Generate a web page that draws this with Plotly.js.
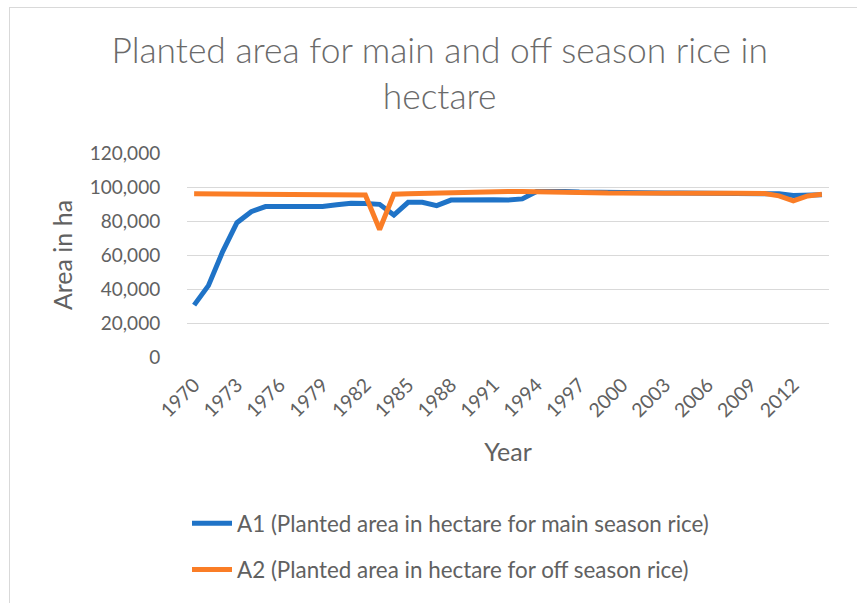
<!DOCTYPE html>
<html>
<head>
<meta charset="utf-8">
<script src="https://cdn.plot.ly/plotly-3.0.1.min.js"></script>
<style>
  html, body { margin: 0; padding: 0; background: #ffffff; }
  #frame { position: absolute; left: 9px; top: 7px; width: 900px; height: 700px; border: 1px solid #d9d9d9; }
  #chart { position: absolute; left: 0; top: 0; width: 857px; height: 603px; }
</style>
</head>
<body>
<div id="frame"></div>
<div id="chart"></div>
<script>
const years = [
  "1970","1971","1972","1973","1974","1975","1976","1977","1978","1979",
  "1980","1981","1982","1983","1984","1985","1986","1987","1988","1989",
  "1990","1991","1992","1993","1994","1995","1996","1997","1998","1999",
  "2000","2001","2002","2003","2004","2005","2006","2007","2008","2009",
  "2010","2011","2012","2013","2014"
];

const mainSeason = [
  30500, 42000, 62000, 79000, 85500, 88500, 88500, 88500, 88500, 88500,
  89500, 90500, 90300, 89800, 83500, 91000, 91000, 89000, 92300, 92500,
  92500, 92500, 92300, 93000, 97300, 97700, 97400, 97000, 96800, 96600,
  96500, 96400, 96400, 96400, 96400, 96400, 96500, 96500, 96500, 96500,
  96500, 96000, 95000, 95300, 95500
];

const offSeason = [
  96000, 96000, 96000, 96000, 96000, 96000, 96000, 96000, 96000, 96000,
  96000, 95300, 95300, 75000, 95800, 96000, 96200, 97000, 97200, 97300,
  97300, 97300, 97300, 97300, 97300, 97000, 96900, 96700, 96600, 96400,
  96300, 96300, 96300, 96300, 96300, 96300, 96300, 96300, 96300, 96300,
  96200, 94800, 91800, 94700, 95700
];

const yTicks = [0, 20000, 40000, 60000, 80000, 100000, 120000];
const xTickLabels = ["1970","1973","1976","1979","1982","1985","1988","1991","1994","1997","2000","2003","2006","2009","2012"];

const seriesNames = [
  "A1 (Planted area in hectare for main season rice)",
  "A2 (Planted area in hectare for off season rice)"
];

const grey = "#616161";
const font = "Lato, 'Open Sans', sans-serif";

const traces = [
  {
    x: years, y: mainSeason, type: "scatter", mode: "lines",
    name: seriesNames[0], legendgroup: "a",
    line: { color: "#1f73c7", width: 5 }
  },
  {
    x: years, y: offSeason, type: "scatter", mode: "lines",
    name: seriesNames[1], legendgroup: "b",
    line: { color: "#fa7d26", width: 5 }
  }
];

const layout = {
  width: 857, height: 603,
  margin: { l: 187, r: 28, t: 153, b: 246, pad: 0 },
  paper_bgcolor: "rgba(0,0,0,0)",
  plot_bgcolor: "rgba(0,0,0,0)",
  font: { family: font, color: grey, size: 18 },
  title: {
    text: "Planted area for main and off season rice in<br>hectare",
    font: { family: font, size: 35.4, color: "#6a6a6a", weight: 300 },
    xref: "container", x: 0.513, xanchor: "center",
    yref: "container", y: 0.895, yanchor: "top"
  },
  xaxis: {
    type: "category",
    categoryorder: "array", categoryarray: years,
    range: [-0.5, years.length - 0.5],
    tickmode: "array", tickvals: xTickLabels, ticktext: xTickLabels,
    tickangle: -45,
    showgrid: false, zeroline: false, showline: false,
    ticks: "outside", ticklen: 8, tickcolor: "rgba(0,0,0,0)",
    tickfont: { family: font, size: 19.5, color: grey },
    title: { text: "Year", font: { family: font, size: 25, color: grey }, standoff: 23 },
    automargin: false
  },
  yaxis: {
    range: [0, 120000],
    tickmode: "array", tickvals: yTicks,
    tickformat: ",",
    showgrid: true, gridcolor: "#d9d9d9", gridwidth: 1,
    zeroline: false, showline: false,
    ticks: "outside", ticklen: 22, tickcolor: "rgba(0,0,0,0)",
    tickfont: { family: font, size: 19, color: grey },
    title: { text: "Area in ha", font: { family: font, size: 25, color: grey }, standoff: 10 },
    automargin: false
  },
  showlegend: true,
  legend: {
    orientation: "v",
    x: 0.0, xanchor: "left",
    y: -0.712, yanchor: "top",
    traceorder: "grouped", tracegroupgap: 14,
    itemwidth: 40,
    font: { family: font, size: 22.4, color: grey },
    bgcolor: "rgba(0,0,0,0)"
  }
};

Plotly.newPlot("chart", traces, layout, { displayModeBar: false, staticPlot: true });
</script>
</body>
</html>
